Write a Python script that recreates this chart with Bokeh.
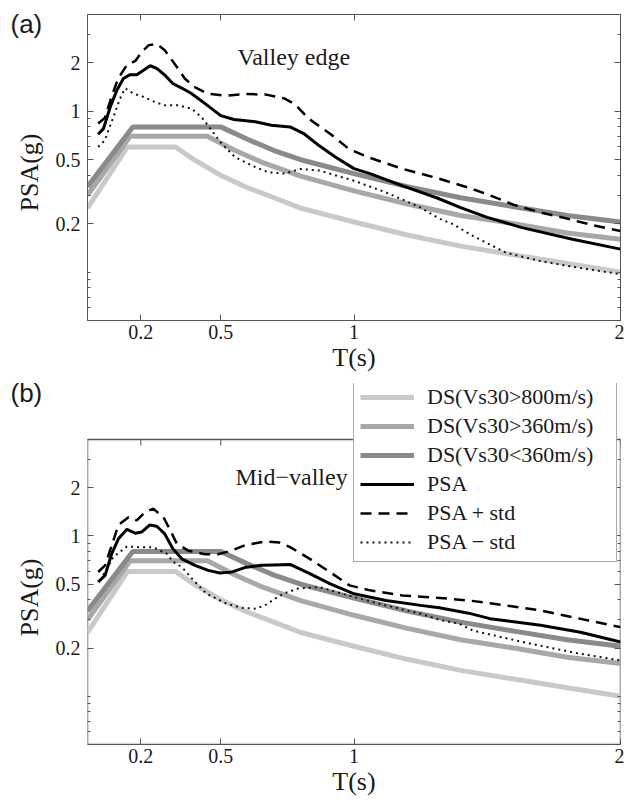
import math
from bokeh.plotting import figure
from bokeh.models import (Range1d, FixedTicker, LinearAxis, LogAxis, Label, Legend, LegendItem,
                          BoxAnnotation, CustomLabelingPolicy)
from bokeh.layouts import column, row
from bokeh.embed import file_html
from bokeh.resources import INLINE

SERIF = "Liberation Serif"
SANS = "Liberation Sans"

# ---------------- data ----------------
x_ticks = [0.2, 0.5, 1, 2]
x_tick_labels = ["0.2", "0.5", "1", "2"]
y_ticks = [0.2, 0.5, 1, 2]
y_tick_labels = ["0.2", "0.5", "1", "2"]
y_minor = [0.06, 0.07, 0.08, 0.09, 0.1, 0.3, 0.4, 0.6, 0.7, 0.8, 0.9, 3, 4]
x_lim = (0, 2)
y_lim = (0.05, 4)

# design spectra (same in both panels)
ds800_T = [0, 0.15, 0.33, 0.4, 0.5, 0.6, 0.7, 0.8, 1.0, 1.2, 1.4, 1.6, 1.8, 2.0]
ds800_v = [0.25, 0.6, 0.6, 0.5, 0.4, 0.335, 0.29, 0.25, 0.205, 0.17, 0.145, 0.128, 0.113, 0.1]
ds360hi_T = [0, 0.16, 0.45, 0.55, 0.65, 0.8, 1.0, 1.2, 1.4, 1.6, 1.8, 2.0]
ds360hi_v = [0.3, 0.7, 0.7, 0.575, 0.485, 0.395, 0.32, 0.265, 0.225, 0.2, 0.175, 0.16]
ds360lo_T = [0, 0.17, 0.5, 0.6, 0.7, 0.8, 1.0, 1.2, 1.4, 1.6, 1.8, 2.0]
ds360lo_v = [0.34, 0.8, 0.8, 0.67, 0.57, 0.5, 0.41, 0.34, 0.29, 0.255, 0.225, 0.205]

# panel (a) Valley edge
a_psa_T = [0.04, 0.06, 0.085, 0.11, 0.135, 0.16, 0.185, 0.21, 0.235, 0.26, 0.29, 0.32, 0.355, 0.39,
           0.44, 0.5, 0.55, 0.63, 0.69, 0.76, 0.81, 0.87, 0.93, 1.0, 1.06, 1.18, 1.31, 1.4, 1.5, 1.63,
           1.82, 2.0]
a_psa_v = [0.72, 0.78, 1.06, 1.35, 1.6, 1.69, 1.69, 1.80, 1.92, 1.85, 1.68, 1.49, 1.39, 1.29,
           1.12, 0.94, 0.89, 0.86, 0.82, 0.80, 0.73, 0.61, 0.52, 0.44, 0.41, 0.345, 0.29, 0.252, 0.219,
           0.189, 0.16, 0.139]
a_plus_T = [0.04, 0.065, 0.09, 0.115, 0.148, 0.18, 0.205, 0.23, 0.26, 0.29, 0.33, 0.365, 0.4, 0.45,
            0.52, 0.59, 0.67, 0.74, 0.78, 0.83, 0.91, 0.98, 1.05, 1.18, 1.31, 1.43, 1.5, 1.6, 1.7,
            1.8, 1.9, 2.0]
a_plus_v = [0.84, 0.91, 1.23, 1.6, 1.94, 2.06, 2.35, 2.58, 2.62, 2.40, 1.94, 1.6, 1.42, 1.29,
            1.25, 1.28, 1.27, 1.2, 1.1, 0.9, 0.726, 0.585, 0.52, 0.44, 0.385, 0.335, 0.305, 0.262,
            0.235, 0.215, 0.195, 0.18]
a_minus_T = [0.04, 0.065, 0.097, 0.122, 0.141, 0.172, 0.21, 0.254, 0.29, 0.34, 0.39, 0.428, 0.466,
             0.503, 0.553, 0.616, 0.678, 0.74, 0.8, 0.87, 1.0, 1.12, 1.25, 1.32, 1.37, 1.446, 1.57,
             1.7, 1.85, 2.0]
a_minus_v = [0.60, 0.66, 0.92, 1.2, 1.39, 1.29, 1.23, 1.14, 1.09, 1.09, 1.04, 0.92, 0.76,
             0.63, 0.52, 0.46, 0.418, 0.41, 0.438, 0.428, 0.37, 0.313, 0.252, 0.215, 0.199, 0.168,
             0.132, 0.117, 0.106, 0.097]

# panel (b) Mid-valley
b_psa_T = [0.04, 0.066, 0.091, 0.116, 0.148, 0.179, 0.204, 0.233, 0.26, 0.29, 0.32, 0.354, 0.403,
           0.453, 0.497, 0.54, 0.59, 0.653, 0.7, 0.76, 0.834, 0.909, 1.0, 1.12, 1.25, 1.32, 1.43,
           1.51, 1.7, 1.85, 2.0]
b_psa_v = [0.516, 0.568, 0.776, 0.96, 1.10, 1.04, 1.06, 1.17, 1.15, 1.03, 0.834, 0.72, 0.656,
           0.61, 0.587, 0.595, 0.635, 0.656, 0.66, 0.665, 0.582, 0.504, 0.436, 0.396, 0.369, 0.357,
           0.33, 0.305, 0.277, 0.251, 0.218]
b_plus_T = [0.04, 0.066, 0.091, 0.116, 0.154, 0.185, 0.216, 0.247, 0.285, 0.31, 0.335, 0.378, 0.44,
            0.49, 0.54, 0.59, 0.666, 0.72, 0.76, 0.834, 0.909, 0.983, 1.06, 1.18, 1.31, 1.43, 1.51,
            1.7, 1.88, 2.0]
b_plus_v = [0.596, 0.656, 0.875, 1.17, 1.31, 1.25, 1.41, 1.48, 1.31, 1.09, 0.896, 0.81, 0.77,
            0.77, 0.81, 0.875, 0.925, 0.91, 0.853, 0.72, 0.596, 0.492, 0.458, 0.426, 0.412, 0.396,
            0.381, 0.343, 0.297, 0.27]
b_minus_T = [0.048, 0.097, 0.148, 0.197, 0.247, 0.297, 0.322, 0.354, 0.397, 0.447, 0.522, 0.584,
             0.634, 0.672, 0.703, 0.734, 0.79, 0.87, 1.0, 1.12, 1.25, 1.32, 1.396, 1.446, 1.633,
             1.82, 2.0]
b_minus_v = [0.53, 0.74, 0.86, 0.85, 0.85, 0.776, 0.688, 0.64, 0.53, 0.436, 0.378, 0.355,
             0.352, 0.374, 0.406, 0.436, 0.47, 0.48, 0.416, 0.369, 0.327, 0.30, 0.283, 0.257, 0.218,
             0.188, 0.167]

legend_labels = ["DS(Vs30>800m/s)", "DS(Vs30>360m/s)", "DS(Vs30<360m/s)",
                 "PSA", "PSA + std", "PSA \u2212 std"]

C800 = "#c9c9c9"
C360HI = "#a8a8a8"
C360LO = "#8a8a8a"
AXC = "#555555"
TXT = "#1a1a1a"

# ---------------- layout constants ----------------
H = 802
STRIP_W = 45                                    # left strip holding (a)/(b) and PSA(g)
STRIP_SPLIT = 360                               # height of the upper strip
W = 624 - STRIP_W
B_LEFT, B_RIGHT = 87 - STRIP_W, 2
A_TOP, A_FRAME, A_BOTTOM = 14, 306, 62          # panel (a)
A_H = A_TOP + A_FRAME + A_BOTTOM
B_H = H - A_H
B_TOP, B_FRAME = 1, 361                         # panel (b), frame extended upward for legend
B_BOTTOM = B_H - B_TOP - B_FRAME
B_BOX = 305                                     # px of panel (b) box inside its frame
DEC = math.log10(y_lim[1] / y_lim[0])
PX_PER_DEC = B_BOX / DEC
B_YTOP = y_lim[0] * 10 ** (B_FRAME / PX_PER_DEC)
TICK_LEN = 6


def style_axis(ax, show_labels=True):
    ax.axis_line_color = AXC
    ax.major_tick_line_color = AXC
    ax.minor_tick_line_color = AXC
    ax.major_tick_in = TICK_LEN
    ax.major_tick_out = 0
    ax.minor_tick_in = 3
    ax.minor_tick_out = 0
    ax.major_label_text_font = SERIF
    ax.major_label_text_color = TXT
    if show_labels:
        ax.major_label_text_font_size = "20px"
    else:
        ax.major_label_policy = CustomLabelingPolicy(code="return []")
        ax.major_label_text_font_size = "1px"
        ax.major_label_standoff = 0


def make_panel(height, top, bottom, y_top, psa, plus, minus, boxed):
    p = figure(width=W, height=height, x_range=Range1d(*x_lim), y_range=Range1d(y_lim[0], y_top),
               y_axis_type="log", output_backend="svg", toolbar_location=None,
               min_border_left=B_LEFT, min_border_right=B_RIGHT, min_border_top=top,
               min_border_bottom=bottom)
    p.grid.visible = False
    p.background_fill_color = "white"
    p.border_fill_color = "white"

    xt = FixedTicker(ticks=x_ticks, minor_ticks=[])
    yt = FixedTicker(ticks=y_ticks, minor_ticks=y_minor)

    xa = p.xaxis[0]
    xa.ticker = xt
    xa.major_label_overrides = {t: s for t, s in zip(x_ticks, x_tick_labels)}
    style_axis(xa)
    xa.major_label_standoff = 4
    xa.axis_label = "T(s)"
    xa.axis_label_standoff = 1
    xa.axis_label_text_font = SERIF
    xa.axis_label_text_font_size = "26px"
    xa.axis_label_text_font_style = "normal"
    xa.axis_label_text_color = TXT

    ya = p.yaxis[0]
    ya.ticker = yt
    ya.major_label_overrides = {t: s for t, s in zip(y_ticks, y_tick_labels)}
    style_axis(ya)
    ya.major_label_standoff = 7

    yright = LogAxis(ticker=yt)
    style_axis(yright, False)
    p.add_layout(yright, "right")

    if boxed:
        # the frame reaches above the box (room for the legend): draw the box itself
        p.outline_line_color = None
        ya.axis_line_color = None
        yright.axis_line_color = None
        p.add_layout(BoxAnnotation(left=x_lim[0], right=x_lim[1], bottom=y_lim[0], top=y_lim[1],
                                   fill_color=None, fill_alpha=0, line_color=AXC, line_alpha=1,
                                   line_width=1.5, level="underlay"))
        f = 10 ** (-TICK_LEN / PX_PER_DEC)
        p.segment(x0=x_ticks, y0=[y_lim[1]] * len(x_ticks), x1=x_ticks,
                  y1=[y_lim[1] * f] * len(x_ticks), line_color=AXC, line_width=1)
    else:
        p.outline_line_color = AXC
        xtop = LinearAxis(ticker=xt)
        style_axis(xtop, False)
        p.add_layout(xtop, "above")

    r1 = p.line(ds800_T, ds800_v, line_color=C800, line_width=5)
    r2 = p.line(ds360hi_T, ds360hi_v, line_color=C360HI, line_width=5)
    r3 = p.line(ds360lo_T, ds360lo_v, line_color=C360LO, line_width=5)
    r6 = p.line(minus[0], minus[1], line_color="#111111", line_width=2, line_dash="2 4")
    r5 = p.line(plus[0], plus[1], line_color="black", line_width=2.5, line_dash="11 7")
    r4 = p.line(psa[0], psa[1], line_color="black", line_width=3)
    return p, [r1, r2, r3, r4, r5, r6]


def make_strip(height, tag, tag_base, ylab_center):
    s = figure(width=STRIP_W, height=height, x_range=Range1d(0, 1), y_range=Range1d(0, 1),
               output_backend="svg", toolbar_location=None, x_axis_location=None,
               y_axis_location=None, min_border=0)
    s.grid.visible = False
    s.outline_line_color = None
    s.background_fill_color = "white"
    s.border_fill_color = "white"
    s.add_layout(Label(x=10, y=height - tag_base, x_units="screen", y_units="screen", text=tag,
                       text_font=SANS, text_font_size="26px", text_color=TXT))
    s.add_layout(Label(x=29, y=height - ylab_center, x_units="screen", y_units="screen",
                       text="PSA(g)", angle=math.pi / 2, text_align="center",
                       text_baseline="middle", text_font=SERIF, text_font_size="26px",
                       text_color=TXT))
    return s


pa, _ = make_panel(A_H, A_TOP, A_BOTTOM, y_lim[1], (a_psa_T, a_psa_v), (a_plus_T, a_plus_v),
                   (a_minus_T, a_minus_v), False)
pb, rb = make_panel(B_H, B_TOP, B_BOTTOM, B_YTOP, (b_psa_T, b_psa_v),
                    (b_plus_T, b_plus_v), (b_minus_T, b_minus_v), True)

pa.add_layout(Label(x=150, y=251, x_units="screen", y_units="screen", text="Valley edge",
                    text_font=SERIF, text_font_size="24px", text_color=TXT))
pb.add_layout(Label(x=148, y=255, x_units="screen", y_units="screen", text="Mid\u2212valley",
                    text_font=SERIF, text_font_size="24px", text_color=TXT))

legend = Legend(items=[LegendItem(label=l, renderers=[r]) for l, r in zip(legend_labels, rb)],
                location=(266, 182))
legend.label_text_font = SERIF
legend.label_text_font_size = "22px"
legend.label_text_color = TXT
legend.glyph_width = 54
legend.glyph_height = 20
legend.label_standoff = 13
legend.label_width = 183
legend.padding = 6
legend.spacing = 3
legend.margin = 0
legend.border_line_color = AXC
legend.border_line_width = 1
legend.background_fill_color = "white"
legend.background_fill_alpha = 1
pb.add_layout(legend)

sa = make_strip(STRIP_SPLIT, "(a)", 38, 172)
sb = make_strip(H - STRIP_SPLIT, "(b)", 407 - STRIP_SPLIT, 597 - STRIP_SPLIT)

layout = row(column(sa, sb, spacing=0), column(pa, pb, spacing=0), spacing=0)
open("out.html", "w").write(file_html(layout, INLINE))
